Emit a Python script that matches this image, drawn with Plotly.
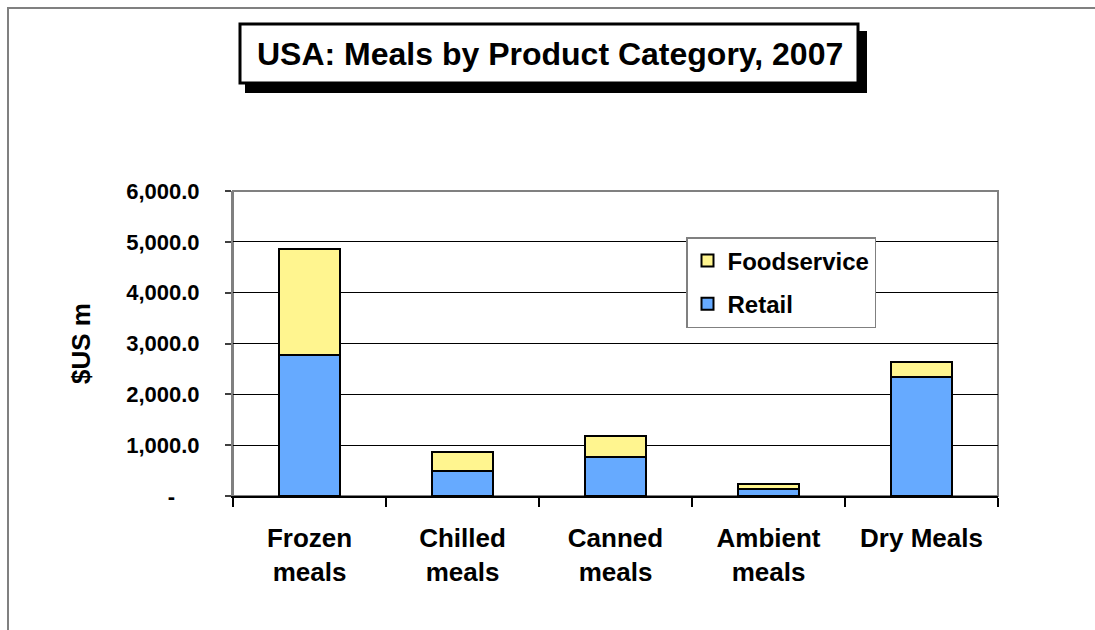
import plotly.graph_objects as go

# Market size by product category, $US million (2007)
categories = ["Frozen<br>meals", "Chilled<br>meals", "Canned<br>meals", "Ambient<br>meals", "Dry Meals"]
retail = [2780, 495, 770, 130, 2350]
foodservice = [2075, 375, 405, 100, 295]

y_tickvals = [0, 1000, 2000, 3000, 4000, 5000, 6000]
y_ticktext = ["-\u00a0\u00a0\u00a0\u00a0", "1,000.0", "2,000.0", "3,000.0", "4,000.0", "5,000.0", "6,000.0"]

W_FIG, H_FIG = 1095, 630
M_L, M_R, M_T, M_B = 233, 97, 191, 134
PW = W_FIG - M_L - M_R
PH = H_FIG - M_T - M_B


def px(x):
    return (x - M_L) / PW


def py(y):
    return (H_FIG - M_B - y) / PH


FONT = "Arial, 'Liberation Sans', sans-serif"

fig = go.Figure()
fig.add_trace(go.Bar(
    name="Retail", x=categories, y=retail, legendgroup="retail", legendrank=2,
    marker=dict(color="#66AAFF", line=dict(color="black", width=2)),
))
fig.add_trace(go.Bar(
    name="Foodservice", x=categories, y=foodservice, legendgroup="foodservice", legendrank=1,
    marker=dict(color="#FFF58F", line=dict(color="black", width=2)),
))

shapes = [
    # outer chart frame
    dict(type="rect", xref="paper", yref="paper", x0=px(8), x1=px(1110), y0=py(640), y1=py(8),
         line=dict(color="#808080", width=2), fillcolor="rgba(0,0,0,0)", layer="below"),
    # plot area frame
    dict(type="rect", xref="paper", yref="paper", x0=0, x1=1, y0=0, y1=1,
         line=dict(color="#808080", width=2), fillcolor="rgba(0,0,0,0)", layer="below"),
    # title box shadow
    dict(type="rect", xref="paper", yref="paper", x0=px(245), x1=px(867), y0=py(93), y1=py(31),
         line=dict(color="black", width=0), fillcolor="black"),
    # title box
    dict(type="rect", xref="paper", yref="paper", x0=px(240), x1=px(858), y0=py(83), y1=py(24),
         line=dict(color="black", width=3), fillcolor="white"),
]

annotations = [
    dict(text="<b>USA: Meals by Product Category, 2007</b>", xref="paper", yref="paper",
         x=px(550), y=py(54), xanchor="center", yanchor="middle", showarrow=False,
         font=dict(family=FONT, size=32, color="black")),
    dict(text="<b>$US m</b>", xref="paper", yref="paper", x=px(81), y=py(344),
         xanchor="center", yanchor="middle", textangle=-90, showarrow=False,
         font=dict(family=FONT, size=26, color="black")),
]

fig.update_layout(
    width=W_FIG, height=H_FIG,
    margin=dict(l=M_L, r=M_R, t=M_T, b=M_B, autoexpand=False),
    paper_bgcolor="white", plot_bgcolor="white",
    barmode="stack", bargap=0.6,
    showlegend=True,
    legend=dict(
        x=px(686), y=py(237), xanchor="left", yanchor="top",
        traceorder="grouped", bgcolor="white", tracegroupgap=9,
        bordercolor="#808080", borderwidth=1.5,
        font=dict(family=FONT, size=24, color="black", weight="bold"),
    ),
    shapes=shapes,
    annotations=annotations,
    font=dict(family=FONT, color="black"),
)

fig.update_xaxes(
    type="category", tickson="boundaries", ticks="outside", ticklen=9,
    tickcolor="black", tickwidth=1.5, showline=True, linecolor="black", linewidth=2,
    showgrid=False, ticklabelstandoff=18,
    tickfont=dict(family=FONT, size=26, color="black", weight="bold"),
)
fig.update_yaxes(
    range=[0, 6000], tickvals=y_tickvals, ticktext=y_ticktext,
    ticks="outside", ticklen=6, tickcolor="#404040", tickwidth=1.5,
    showline=True, linecolor="#808080", linewidth=2,
    showgrid=True, gridcolor="black", gridwidth=1, zeroline=False,
    ticklabelstandoff=21,
    tickfont=dict(family=FONT, size=22, color="black", weight="bold"),
)

fig.write_html("out.html")
